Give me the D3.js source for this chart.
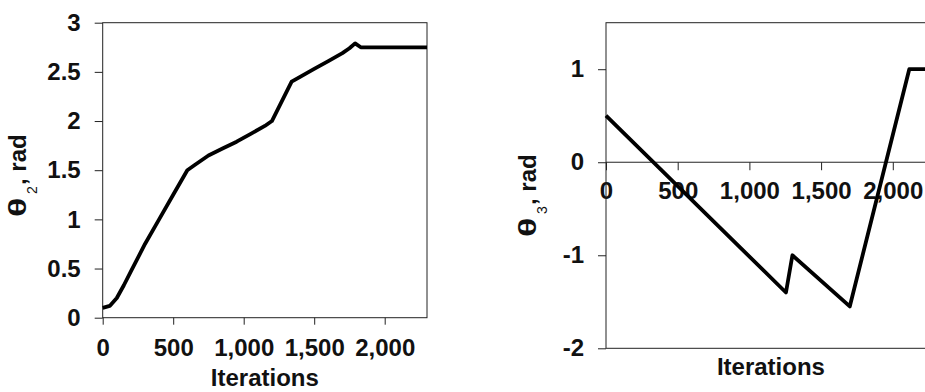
<!DOCTYPE html>
<html>
<head>
<meta charset="utf-8">
<script src="https://cdn.jsdelivr.net/npm/d3@7"></script>
<style>
  html, body { margin: 0; padding: 0; background: #fff; }
  svg { display: block; }
  text { font-family: "Liberation Sans", Arial, sans-serif; fill: #111; }
</style>
</head>
<body>
<svg id="chart" width="925" height="392"></svg>
<script>
// Joint angle trajectories over iterations
const iterLeft = [0, 50, 100, 150, 200, 300, 400, 500, 600, 650, 750, 850, 950, 1050, 1150, 1200, 1340, 1400, 1500, 1600, 1700, 1750, 1790, 1830, 2300];
const theta2   = [0.1, 0.12, 0.2, 0.33, 0.47, 0.75, 1.0, 1.25, 1.5, 1.55, 1.65, 1.72, 1.79, 1.87, 1.95, 2.0, 2.4, 2.45, 2.53, 2.61, 2.69, 2.74, 2.79, 2.75, 2.75];

const iterRight = [0, 1255, 1300, 1700, 2115, 2300];
const theta3    = [0.5, -1.4, -1.0, -1.55, 1.0, 1.0];

const xTicks = [0, 500, 1000, 1500, 2000];
const yTicksLeft = [0, 0.5, 1, 1.5, 2, 2.5, 3];
const yTicksRight = [-2, -1, 0, 1];

const svg = d3.select("#chart");
const fmtX = d3.format(",");
const axisColor = "#222";

function styleAxis(g) {
  g.select(".domain").remove();
  g.selectAll("line").attr("stroke", axisColor).attr("stroke-width", 1);
  g.selectAll("text").attr("font-size", 24).attr("font-weight", "bold")
    .attr("font-family", "Liberation Sans, Arial, sans-serif").attr("fill", "#111");
}

function yTitle(tx, ty, sub) {
  const g = svg.append("g").attr("transform", `translate(${tx},${ty}) rotate(-90)`);
  g.append("text").attr("transform", "scale(1.5,1)")
    .attr("font-size", 24).attr("font-weight", "bold").text("θ");
  g.append("text").attr("x", 23).attr("y", 11)
    .attr("font-size", 14).text(sub);
  g.append("text").attr("x", 32)
    .attr("font-size", 24).attr("font-weight", "bold").text(", rad");
}

const line = (x, y) => d3.line().x(d => x(d[0])).y(d => y(d[1]));

// ---- Left panel: theta 2 ----
{
  const x = d3.scaleLinear().domain([0, 2300]).range([102.7, 427]);
  const y = d3.scaleLinear().domain([0, 3]).range([317.7, 22.7]);

  const gx = svg.append("g").attr("transform", `translate(0,${y(0)})`)
    .call(d3.axisBottom(x).tickValues(xTicks).tickFormat(fmtX).tickSize(7));
  styleAxis(gx);
  gx.selectAll("text").attr("y", 21).attr("dy", "0.71em");

  const gy = svg.append("g").attr("transform", `translate(${x(0)},0)`)
    .call(d3.axisLeft(y).tickValues(yTicksLeft).tickFormat(d => String(d)).tickSize(8).tickPadding(14));
  styleAxis(gy);

  // plot frame
  svg.append("rect").attr("x", x(0)).attr("y", y(3))
    .attr("width", x(2300) - x(0)).attr("height", y(0) - y(3))
    .attr("fill", "none").attr("stroke", axisColor).attr("stroke-width", 1);

  svg.append("path").datum(iterLeft.map((v, i) => [v, theta2[i]]))
    .attr("d", line(x, y)).attr("fill", "none").attr("stroke", "#000")
    .attr("stroke-width", 3.8).attr("stroke-linejoin", "round");

  svg.append("text").attr("x", (x(0) + x(2300)) / 2).attr("y", 386)
    .attr("text-anchor", "middle").attr("font-size", 24).attr("font-weight", "bold").text("Iterations");
  yTitle(26, 217, "2");
}

// ---- Right panel: theta 3 ----
{
  const x = d3.scaleLinear().domain([0, 2300]).range([606, 935.8]);
  const y = d3.scaleLinear().domain([-2, 1.5]).range([348.3, 22.7]);

  const gx = svg.append("g").attr("transform", `translate(0,${y(0)})`)
    .call(d3.axisBottom(x).tickValues(xTicks).tickFormat(fmtX).tickSize(8));
  styleAxis(gx);
  gx.selectAll("text").attr("y", 19.5).attr("dy", "0.71em");

  const gy = svg.append("g").attr("transform", `translate(${x(0)},0)`)
    .call(d3.axisLeft(y).tickValues(yTicksRight).tickFormat(d => String(d)).tickSize(8).tickPadding(14));
  styleAxis(gy);

  svg.append("rect").attr("x", x(0)).attr("y", y(1.5))
    .attr("width", x(2300) - x(0)).attr("height", y(-2) - y(1.5))
    .attr("fill", "none").attr("stroke", axisColor).attr("stroke-width", 1);
  svg.append("line").attr("x1", x(0)).attr("x2", x(2300)).attr("y1", y(0)).attr("y2", y(0))
    .attr("stroke", axisColor).attr("stroke-width", 1);

  svg.append("path").datum(iterRight.map((v, i) => [v, theta3[i]]))
    .attr("d", line(x, y)).attr("fill", "none").attr("stroke", "#000")
    .attr("stroke-width", 3.8).attr("stroke-linejoin", "round");

  svg.append("text").attr("x", (x(0) + x(2300)) / 2).attr("y", 375)
    .attr("text-anchor", "middle").attr("font-size", 24).attr("font-weight", "bold").text("Iterations");
  yTitle(536, 237, "3");
}
</script>
</body>
</html>
